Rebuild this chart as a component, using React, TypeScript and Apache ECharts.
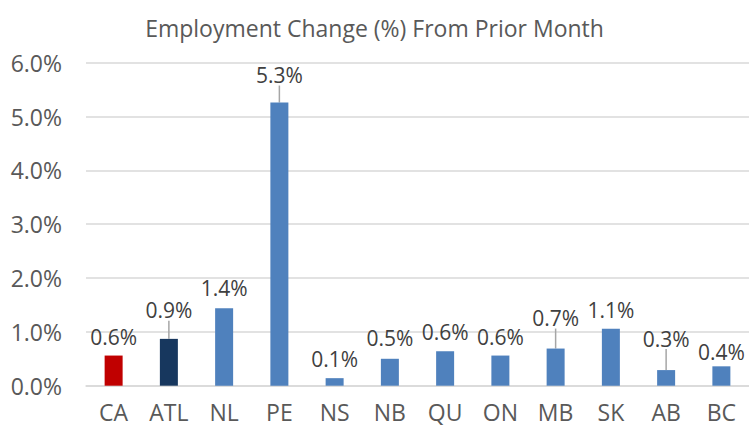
import React, { useEffect, useRef } from "react";
import * as echarts from "echarts";

const TITLE = "Employment Change (%) From Prior Month";
const categories = ["CA", "ATL", "NL", "PE", "NS", "NB", "QU", "ON", "MB", "SK", "AB", "BC"];
const values = [0.56, 0.87, 1.44, 5.26, 0.14, 0.5, 0.64, 0.56, 0.69, 1.06, 0.29, 0.36];
const yTicks = { min: 0, max: 6, interval: 1 };

// styling (not data)
const barColors = ["#C00000", "#17375E", "#4F81BD", "#4F81BD", "#4F81BD", "#4F81BD", "#4F81BD", "#4F81BD", "#4F81BD", "#4F81BD", "#4F81BD", "#4F81BD"];
const labelShift = [0, -10, -2, -9, -1, -2, -1, 0, -12, 0, -13, 4];
const leaderShown = [false, true, false, true, false, false, false, false, true, false, true, false];

const FONT = "'Open Sans', sans-serif";
const pct = (v: number) => (Math.round(v * 10) / 10).toFixed(1) + "%";

export default function App() {
  const ref = useRef<HTMLDivElement>(null);
  useEffect(() => {
    document.body.style.margin = "0";
    const chart = echarts.init(ref.current!, null, { renderer: "svg" });
    chart.setOption({
      animation: false,
      backgroundColor: "#FFFFFF",
      title: {
        text: TITLE,
        left: "center",
        top: 11,
        textStyle: { fontFamily: FONT, fontSize: 23, fontWeight: "normal", color: "#595959" },
      },
      grid: { left: 86, right: -5, top: 62.7, bottom: 43.3, containLabel: false },
      xAxis: {
        type: "category",
        data: categories,
        axisLine: { show: true, lineStyle: { color: "#D9D9D9", width: 1.5 } },
        axisTick: { show: false },
        axisLabel: { fontFamily: FONT, fontSize: 23, lineHeight: 23, color: "#595959", margin: 15 },
      },
      yAxis: {
        type: "value",
        min: yTicks.min,
        max: yTicks.max,
        interval: yTicks.interval,
        axisLine: { show: false },
        axisTick: { show: false },
        splitLine: { lineStyle: { color: "#D9D9D9", width: 1.5 } },
        axisLabel: {
          fontFamily: FONT,
          fontSize: 23,
          color: "#595959",
          margin: 24,
          formatter: (v: number) => v.toFixed(1) + "%",
        },
      },
      series: [
        {
          type: "bar",
          barWidth: 18,
          data: values.map((v, i) => ({
            value: v,
            itemStyle: { color: barColors[i] },
            labelLine: { show: leaderShown[i] },
          })),
          label: {
            show: true,
            position: "top",
            distance: 8,
            fontFamily: FONT,
            fontSize: 21,
            color: "#404040",
            formatter: (p: any) => pct(p.value),
          },
          labelLine: { show: false, lineStyle: { color: "#A6A6A6", width: 1.5 } },
          labelLayout: (p: any) => ({ dy: labelShift[p.dataIndex] }),
        },
      ],
    });
    return () => chart.dispose();
  }, []);
  return <div ref={ref} style={{ width: 749, height: 429 }} />;
}
